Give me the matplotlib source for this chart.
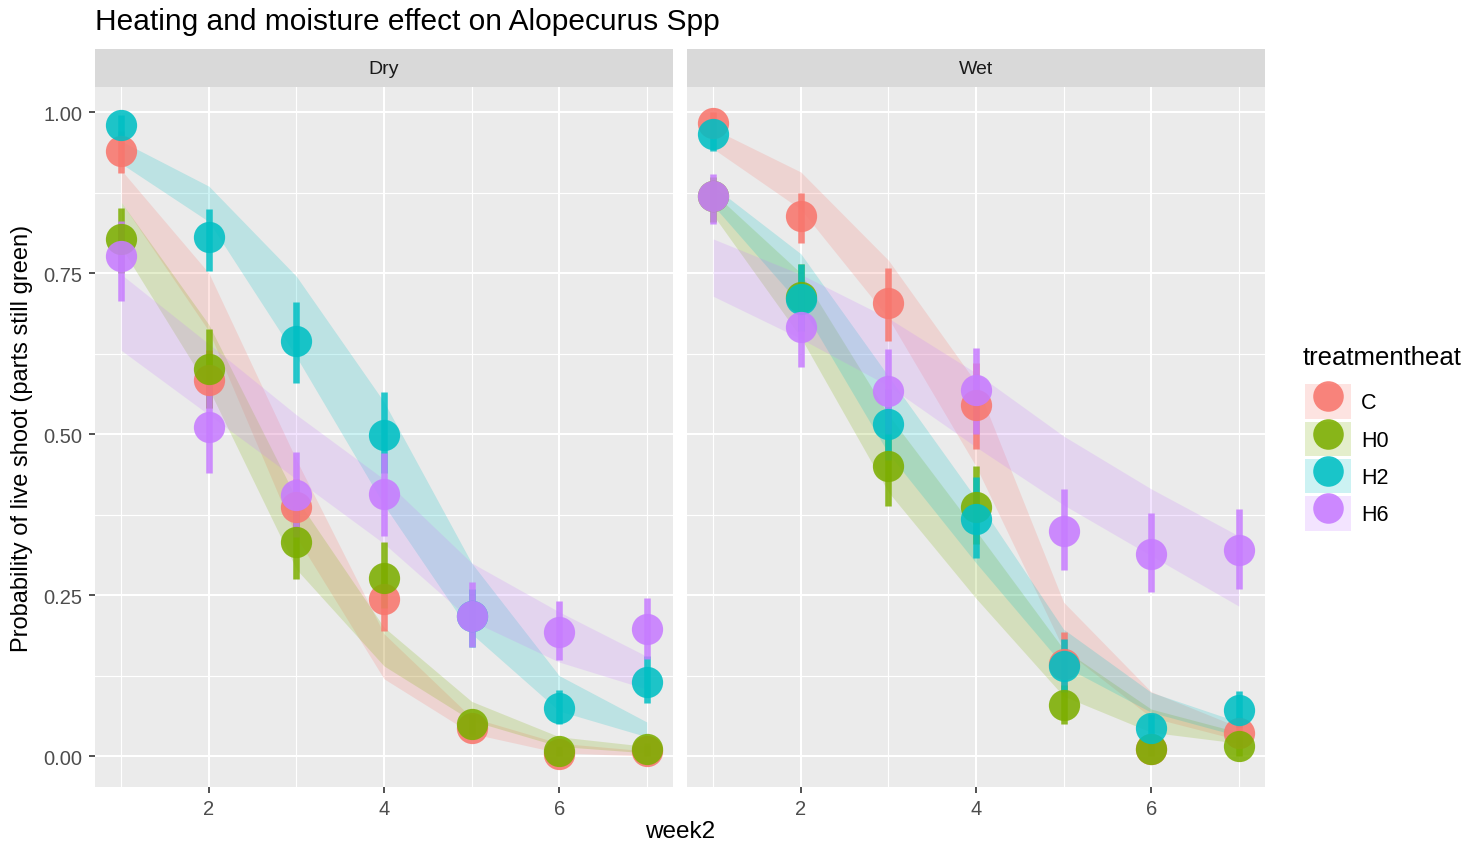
import numpy as np
import matplotlib
matplotlib.use('Agg')
import matplotlib.pyplot as plt
from matplotlib.patches import Patch
from matplotlib.lines import Line2D
from matplotlib.legend_handler import HandlerTuple

plt.rcParams['font.family'] = ['Liberation Sans', 'DejaVu Sans']

# Data
weeks = [1, 2, 3, 4, 5, 6, 7]
groups = ['C', 'H0', 'H2', 'H6']
colors = {'C': '#F8766D', 'H0': '#7CAE00', 'H2': '#00BFC4', 'H6': '#C77CFF'}
facets = ['Dry', 'Wet']

# observed proportions
dry_prob = {
    'C':  [0.939, 0.584, 0.387, 0.244, 0.043, 0.003, 0.008],
    'H0': [0.803, 0.601, 0.332, 0.276, 0.050, 0.008, 0.011],
    'H2': [0.980, 0.806, 0.644, 0.498, 0.217, 0.075, 0.115],
    'H6': [0.776, 0.511, 0.405, 0.407, 0.217, 0.193, 0.197],
}
wet_prob = {
    'C':  [0.983, 0.839, 0.703, 0.545, 0.143, 0.011, 0.036],
    'H0': [0.870, 0.713, 0.450, 0.387, 0.079, 0.011, 0.016],
    'H2': [0.966, 0.710, 0.516, 0.368, 0.140, 0.043, 0.071],
    'H6': [0.870, 0.666, 0.567, 0.568, 0.349, 0.314, 0.320],
}

# error bars (lower, upper)
dry_lo = {
    'C':  [0.905, 0.540, 0.350, 0.195, 0.030, 0.000, 0.000],
    'H0': [0.750, 0.540, 0.275, 0.230, 0.035, 0.000, 0.000],
    'H2': [0.960, 0.753, 0.579, 0.440, 0.170, 0.050, 0.082],
    'H6': [0.707, 0.439, 0.340, 0.342, 0.169, 0.149, 0.150],
}
dry_hi = {
    'C':  [0.970, 0.630, 0.430, 0.300, 0.060, 0.010, 0.015],
    'H0': [0.851, 0.663, 0.390, 0.332, 0.065, 0.015, 0.020],
    'H2': [0.995, 0.849, 0.705, 0.565, 0.260, 0.102, 0.155],
    'H6': [0.831, 0.580, 0.472, 0.470, 0.270, 0.241, 0.245],
}
wet_lo = {
    'C':  [0.960, 0.797, 0.644, 0.477, 0.100, 0.000, 0.015],
    'H0': [0.830, 0.660, 0.388, 0.330, 0.050, 0.000, 0.000],
    'H2': [0.940, 0.660, 0.460, 0.307, 0.100, 0.025, 0.045],
    'H6': [0.826, 0.604, 0.500, 0.500, 0.289, 0.255, 0.260],
}
wet_hi = {
    'C':  [1.000, 0.874, 0.758, 0.610, 0.192, 0.025, 0.060],
    'H0': [0.900, 0.764, 0.510, 0.450, 0.110, 0.025, 0.030],
    'H2': [0.990, 0.764, 0.570, 0.433, 0.182, 0.065, 0.101],
    'H6': [0.904, 0.725, 0.632, 0.633, 0.415, 0.377, 0.384],
}

# fitted confidence bands
dry_fit_lo = {
    'C':  [0.860, 0.660, 0.340, 0.120, 0.035, 0.005, 0.000],
    'H0': [0.790, 0.570, 0.290, 0.140, 0.055, 0.015, 0.005],
    'H2': [0.920, 0.830, 0.620, 0.390, 0.190, 0.070, 0.030],
    'H6': [0.630, 0.530, 0.430, 0.330, 0.210, 0.146, 0.104],
}
dry_fit_hi = {
    'C':  [0.910, 0.750, 0.460, 0.190, 0.060, 0.020, 0.008],
    'H0': [0.860, 0.670, 0.400, 0.200, 0.085, 0.030, 0.015],
    'H2': [0.955, 0.885, 0.745, 0.550, 0.300, 0.125, 0.053],
    'H6': [0.748, 0.640, 0.530, 0.430, 0.300, 0.224, 0.155],
}
wet_fit_lo = {
    'C':  [0.943, 0.849, 0.680, 0.450, 0.166, 0.060, 0.025],
    'H0': [0.840, 0.650, 0.410, 0.245, 0.093, 0.037, 0.020],
    'H2': [0.855, 0.700, 0.470, 0.300, 0.140, 0.068, 0.031],
    'H6': [0.714, 0.648, 0.575, 0.480, 0.390, 0.311, 0.233],
}
wet_fit_hi = {
    'C':  [0.974, 0.907, 0.770, 0.580, 0.239, 0.100, 0.045],
    'H0': [0.875, 0.750, 0.530, 0.350, 0.166, 0.073, 0.037],
    'H2': [0.885, 0.780, 0.590, 0.400, 0.197, 0.099, 0.053],
    'H6': [0.803, 0.748, 0.680, 0.595, 0.497, 0.415, 0.342],
}

facet_data = {
    'Dry': (dry_prob, dry_lo, dry_hi, dry_fit_lo, dry_fit_hi),
    'Wet': (wet_prob, wet_lo, wet_hi, wet_fit_lo, wet_fit_hi),
}

W, H = 1466, 845
fig = plt.figure(figsize=(W / 100, H / 100), dpi=100)

panel_left = [95, 687]
panel_w = 578
panel_top, panel_bot = 88, 788
strip_top = 50

grey_bg = '#EBEBEB'
tick_col = '#4D4D4D'

for i, facet in enumerate(facets):
    prob, lo, hi, flo, fhi = facet_data[facet]
    ax = fig.add_axes([panel_left[i] / W, (H - panel_bot) / H,
                       panel_w / W, (panel_bot - panel_top) / H])
    ax.set_facecolor(grey_bg)
    for s in ax.spines.values():
        s.set_visible(False)
    ax.set_xlim(0.7, 7.3)
    ax.set_ylim(-0.048, 1.039)
    ax.set_xticks([2, 4, 6])
    ax.set_xticks([1, 3, 5, 7], minor=True)
    ax.set_yticks([0, 0.25, 0.5, 0.75, 1.0])
    ax.set_yticks([0.125, 0.375, 0.625, 0.875], minor=True)
    ax.grid(which='major', color='white', linewidth=1.5)
    ax.grid(which='minor', color='white', linewidth=0.8)
    ax.set_axisbelow(True)
    ax.tick_params(which='major', length=4, width=1.2, color='#333333',
                   labelcolor=tick_col, labelsize=14.5, pad=5)
    ax.tick_params(which='minor', length=0)
    if i == 0:
        ax.set_yticklabels(['0.00', '0.25', '0.50', '0.75', '1.00'])
    else:
        ax.tick_params(axis='y', which='both', left=False, labelleft=False)

    # confidence bands
    for g in groups:
        ax.fill_between(weeks, flo[g], fhi[g], color=colors[g], alpha=0.2,
                        linewidth=0, zorder=2)
    # error bars
    for g in groups:
        ax.vlines(weeks, lo[g], hi[g], color=colors[g], linewidth=4.7,
                  alpha=0.85, zorder=3)
    # points
    for g in groups:
        ax.plot(weeks, prob[g], 'o', color=colors[g], markersize=22.5,
                markeredgewidth=0, alpha=0.88, zorder=4)

    # facet strip
    sax = fig.add_axes([panel_left[i] / W, (H - panel_top) / H,
                        panel_w / W, (panel_top - strip_top) / H])
    sax.set_facecolor('#D9D9D9')
    sax.set_xticks([])
    sax.set_yticks([])
    for s in sax.spines.values():
        s.set_visible(False)
    sax.text(0.5, 0.5, facet, ha='center', va='center', fontsize=14,
             color='#1A1A1A', transform=sax.transAxes)

# titles
fig.text(95 / W, 1 - 22 / H, 'Heating and moisture effect on Alopecurus Spp',
         ha='left', va='center', fontsize=21.5, color='black')
fig.text(680 / W, 1 - 832 / H, 'week2', ha='center', va='center',
         fontsize=17.5, color='black')
fig.text(22 / W, 1 - 438 / H, 'Probability of live shoot (parts still green)',
         ha='center', va='center', rotation=90, fontsize=17, color='black')

# legend
fig.text(1303 / W, 1 - 358 / H, 'treatmentheat', ha='left', va='center',
         fontsize=18.5, color='black')
handles = []
for g in groups:
    handles.append((Patch(facecolor=colors[g], alpha=0.2, edgecolor='none'),
                    Line2D([], [], marker='o', linestyle='none', color=colors[g],
                           markersize=22, markeredgewidth=0, alpha=0.88)))
leg = fig.legend(handles, groups,
                 handler_map={tuple: HandlerTuple(ndivide=1, pad=0)},
                 loc='upper left', bbox_to_anchor=(1301 / W, 1 - 381 / H),
                 frameon=False, fontsize=15.5,
                 handlelength=2.1, handleheight=2.1, labelspacing=0.12,
                 handletextpad=0.5, borderpad=0.2, borderaxespad=0)

fig.savefig('out.png', dpi=100)
